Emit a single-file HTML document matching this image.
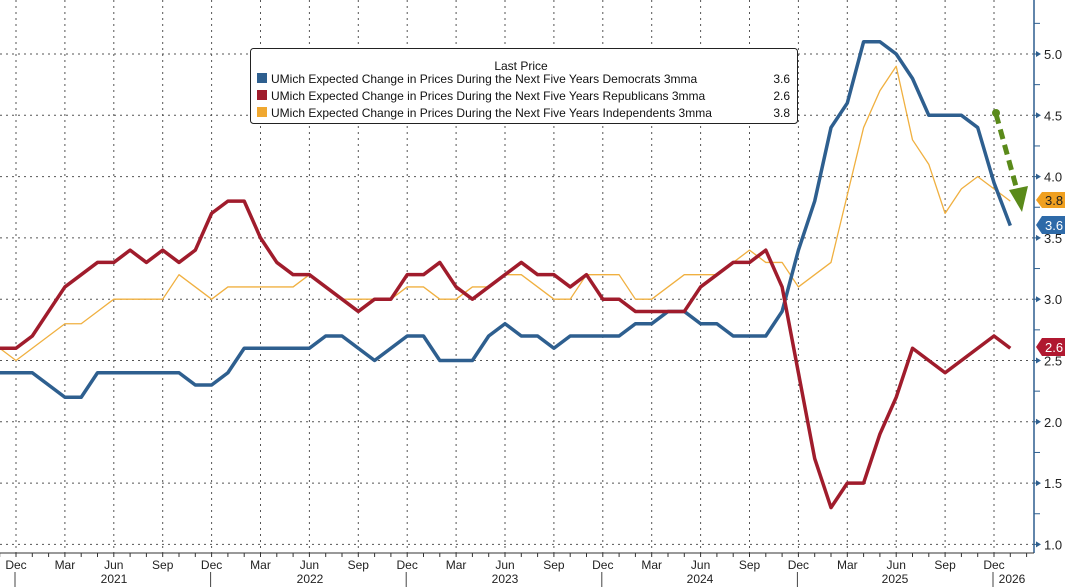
<!DOCTYPE html>
<html><head><meta charset="utf-8"><style>
html,body{margin:0;padding:0;background:#fff;}
svg{display:block;font-family:"Liberation Sans",sans-serif;}
</style></head><body>
<svg width="1065" height="587" viewBox="0 0 1065 587" xmlns="http://www.w3.org/2000/svg">
<g id="grid" stroke="#555" stroke-width="1" stroke-dasharray="2,4"></g>
<g id="axis"></g>
<g id="series"></g>
<rect x="250.5" y="48.5" width="547" height="75" rx="3" fill="#fff" stroke="#222"/>
<text x="521" y="70" font-size="12" text-anchor="middle" fill="#111">Last Price</text>
<rect x="257" y="73" width="10" height="10" fill="#2e5f8f"/>
<rect x="257" y="90" width="10" height="10" fill="#a01c2c"/>
<rect x="257" y="107" width="10" height="10" fill="#f0a830"/>
<g font-size="12" fill="#111">
<text x="271" y="83">UMich Expected Change in Prices During the Next Five Years Democrats 3mma</text>
<text x="271" y="100">UMich Expected Change in Prices During the Next Five Years Republicans 3mma</text>
<text x="271" y="117">UMich Expected Change in Prices During the Next Five Years Independents 3mma</text>
<text x="790" y="83" text-anchor="end">3.6</text>
<text x="790" y="100" text-anchor="end">2.6</text>
<text x="790" y="117" text-anchor="end">3.8</text>
</g>
<line x1="996" y1="114" x2="1017" y2="190" stroke="#5a8a1a" stroke-width="5" stroke-dasharray="10,6"/>
<circle cx="996" cy="113" r="4" fill="#5a8a1a"/>
<polygon points="1009,190 1028,186 1022,212" fill="#5a8a1a"/>
<g font-size="13" fill="#fff">
<polygon points="1042,192 1065,192 1065,208 1042,208 1036,200" fill="#f0a020"/>
<text x="1045" y="205" fill="#222">3.8</text>
<polygon points="1042,216 1065,216 1065,234 1042,234 1036,225" fill="#2e6aa8"/>
<text x="1045" y="230">3.6</text>
<polygon points="1042,338 1065,338 1065,356 1042,356 1036,347" fill="#b01830"/>
<text x="1045" y="352">2.6</text>
</g>
</svg>
<script>
const ns="http://www.w3.org/2000/svg";
const X=m=>16+16.3*m, Y=v=>54+(5-v)*122.6;
function el(p,t,a,txt){const e=document.createElementNS(ns,t);for(const k in a)e.setAttribute(k,a[k]);if(txt)e.textContent=txt;p.appendChild(e);return e;}
const g=document.getElementById('grid'),ax=document.getElementById('axis'),s=document.getElementById('series');
for(let v=1;v<=5.001;v+=0.5){el(g,'line',{x1:0,x2:1034,y1:Y(v),y2:Y(v)});}
for(let m=0;m<=60;m+=3){el(g,'line',{x1:X(m),x2:X(m),y1:0,y2:553});}
el(ax,'line',{x1:1034,x2:1034,y1:0,y2:553,stroke:'#2e5f8f','stroke-width':1.5});
el(ax,'line',{x1:0,x2:1034,y1:553,y2:553,stroke:'#333','stroke-width':1});
for(let v=1;v<=5.3;v+=0.25){const y=Y(v);el(ax,'line',{x1:1034,x2:1040,y1:y,y2:y,stroke:'#2e5f8f'});
 if(Math.abs(v*2-Math.round(v*2))<0.01){el(ax,'polygon',{points:`1036,${y-3} 1041,${y} 1036,${y+3}`,fill:'#2e5f8f'});el(ax,'text',{x:1044,y:y+5,'font-size':13,fill:'#222'},v.toFixed(1));}}
const mn=['Dec','Mar','Jun','Sep'];
for(let m=-1;m<=62;m++){el(ax,'line',{x1:X(m),x2:X(m),y1:553,y2:557,stroke:'#333'});}
for(let m=0;m<=60;m+=3){el(ax,'text',{x:X(m),y:569,'font-size':12,'text-anchor':'middle',fill:'#222'},mn[(m/3)%4]);}
[['2021',114],['2022',310],['2023',505],['2024',700],['2025',895],['2026',1012]].forEach(a=>el(ax,'text',{x:a[1],y:583,'font-size':12,'text-anchor':'middle',fill:'#222'},a[0]));
for(let m=0;m<=60;m+=12){el(ax,'line',{x1:X(m)-1,x2:X(m)-1,y1:572,y2:587,stroke:'#444'});}
const dem=[2.4,2.4,2.4,2.3,2.2,2.2,2.4,2.4,2.4,2.4,2.4,2.4,2.3,2.3,2.4,2.6,2.6,2.6,2.6,2.6,2.7,2.7,2.6,2.5,2.6,2.7,2.7,2.5,2.5,2.5,2.7,2.8,2.7,2.7,2.6,2.7,2.7,2.7,2.7,2.8,2.8,2.9,2.9,2.8,2.8,2.7,2.7,2.7,2.9,3.4,3.8,4.4,4.6,5.1,5.1,5.0,4.8,4.5,4.5,4.5,4.4,3.95,3.6];
const rep=[2.6,2.6,2.7,2.9,3.1,3.2,3.3,3.3,3.4,3.3,3.4,3.3,3.4,3.7,3.8,3.8,3.5,3.3,3.2,3.2,3.1,3.0,2.9,3.0,3.0,3.2,3.2,3.3,3.1,3.0,3.1,3.2,3.3,3.2,3.2,3.1,3.2,3.0,3.0,2.9,2.9,2.9,2.9,3.1,3.2,3.3,3.3,3.4,3.1,2.4,1.7,1.3,1.5,1.5,1.9,2.2,2.6,2.5,2.4,2.5,2.6,2.7,2.6];
const ind=[2.6,2.5,2.6,2.7,2.8,2.8,2.9,3.0,3.0,3.0,3.0,3.2,3.1,3.0,3.1,3.1,3.1,3.1,3.1,3.2,3.1,3.0,3.0,3.0,3.0,3.1,3.1,3.0,3.0,3.1,3.1,3.2,3.2,3.1,3.0,3.0,3.2,3.2,3.2,3.0,3.0,3.1,3.2,3.2,3.2,3.3,3.4,3.3,3.3,3.1,3.2,3.3,3.85,4.4,4.7,4.9,4.3,4.1,3.7,3.9,4.0,3.9,3.8];
function line(d,c,w,off){el(s,'polyline',{points:d.map((v,i)=>X(i+off)+','+Y(v)).join(' '),fill:'none',stroke:c,'stroke-width':w,'stroke-linejoin':'round'});}
line(ind,'#f0b040',1.3,-1);
line(dem,'#2e5f8f',3.5,-1);
line(rep,'#a01c2c',3.5,-1);
</script>
</body></html>
